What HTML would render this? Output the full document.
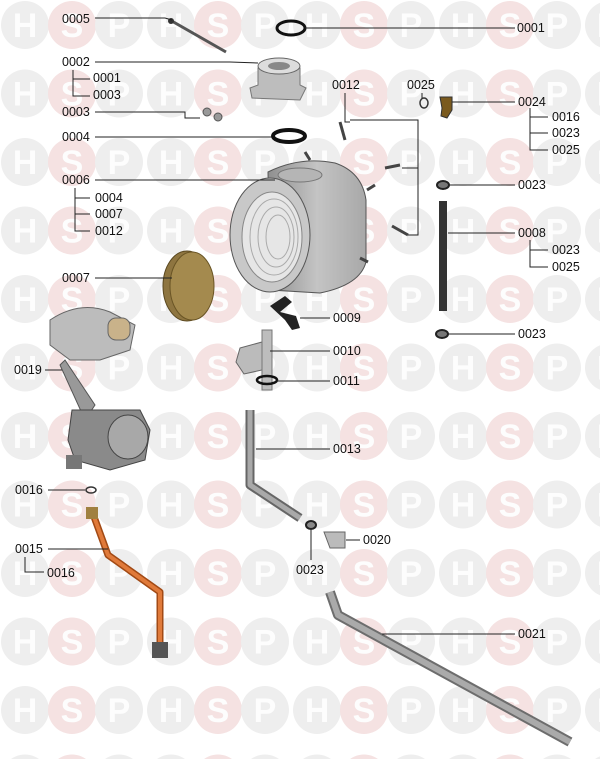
<!DOCTYPE html>
<html><head><meta charset="utf-8"><style>
html,body{margin:0;padding:0;background:#fff}
svg{display:block}
.l{font-family:"Liberation Sans",Arial,sans-serif;font-size:12.5px;fill:#111}
.wm{font-family:"Liberation Sans",Arial,sans-serif;font-weight:bold;font-size:34px;fill:#fdfdfd;text-anchor:middle}
</style></head><body>
<svg width="600" height="759" viewBox="0 0 600 759" xmlns="http://www.w3.org/2000/svg">
<defs>
<pattern id="wp" patternUnits="userSpaceOnUse" x="0" y="0" width="146" height="68.5">
<circle cx="25" cy="25" r="24" fill="#eeeeee"/><text class="wm" x="25" y="37">H</text>
<circle cx="72" cy="25" r="24" fill="#f5e2e2"/><text class="wm" x="72" y="37">S</text>
<circle cx="119" cy="25" r="24" fill="#eeeeee"/><text class="wm" x="119" y="37">P</text>
</pattern>
<linearGradient id="cyl" x1="0" y1="0" x2="1" y2="0">
<stop offset="0" stop-color="#8f8f8f"/><stop offset="0.5" stop-color="#c4c4c4"/><stop offset="1" stop-color="#a8a8a8"/>
</linearGradient>
</defs>
<rect width="600" height="759" fill="#fff"/>
<rect width="600" height="759" fill="url(#wp)"/>

<path d="M170 20 L226 52" stroke="#555" stroke-width="3"/>
<circle cx="171" cy="21" r="3" fill="#333"/>
<ellipse cx="291" cy="28" rx="14" ry="7" fill="none" stroke="#111" stroke-width="3"/>
<path d="M258 68 L258 85 L250 88 L252 98 L300 100 L306 88 L300 85 L300 68 Z" fill="#bdbdbd" stroke="#777"/>
<ellipse cx="279" cy="66" rx="21" ry="8" fill="#ddd" stroke="#666"/>
<ellipse cx="279" cy="66" rx="11" ry="4" fill="#888"/>
<circle cx="207" cy="112" r="4" fill="#999" stroke="#555"/><circle cx="218" cy="117" r="4" fill="#999" stroke="#555"/>
<ellipse cx="289" cy="136" rx="16" ry="6" fill="none" stroke="#111" stroke-width="4"/>
<path d="M268 172 Q300 156 335 163 Q362 172 366 200 L366 262 Q360 285 320 293 L270 290 Z" fill="url(#cyl)" stroke="#555"/>
<ellipse cx="270" cy="235" rx="40" ry="57" fill="#c8c8c8" stroke="#555"/>
<ellipse cx="272" cy="237" rx="30" ry="45" fill="#e6e6e6" stroke="#888"/>
<g stroke="#aaa" fill="none"><ellipse cx="274" cy="237" rx="24" ry="38"/><ellipse cx="276" cy="237" rx="18" ry="30"/><ellipse cx="278" cy="237" rx="12" ry="22"/></g>
<ellipse cx="300" cy="175" rx="22" ry="7" fill="#b5b5b5" stroke="#777"/>
<g stroke="#444" stroke-width="3" fill="none">
<path d="M340 122 L345 140"/><path d="M385 168 L400 165"/><path d="M392 226 L408 235"/><path d="M367 190 L375 185"/><path d="M305 152 L310 160"/><path d="M360 258 L368 262"/>
</g>
<ellipse cx="424" cy="103" rx="4" ry="5" fill="none" stroke="#333" stroke-width="1.5"/>
<path d="M440 97 L452 97 L452 110 L447 118 L441 116 L442 108 Z" fill="#7a5a1e" stroke="#333"/>
<ellipse cx="443" cy="185" rx="6" ry="4" fill="#777" stroke="#222" stroke-width="2"/>
<ellipse cx="442" cy="334" rx="6" ry="4" fill="#777" stroke="#222" stroke-width="2"/>
<rect x="439" y="201" width="8" height="110" fill="#333"/>
<ellipse cx="187" cy="286" rx="24" ry="35" fill="#8e7540" stroke="#5a4820"/>
<ellipse cx="192" cy="286" rx="22" ry="34" fill="#a48a4e" stroke="#6a5525"/>
<path d="M270 306 L285 296 L292 302 L280 312 L296 316 L300 328 L292 330 L285 320 Z" fill="#222"/>
<path d="M240 348 L262 342 L268 352 L262 370 L244 374 L236 362 Z" fill="#bbb" stroke="#666"/>
<rect x="262" y="330" width="10" height="60" fill="#bdbdbd" stroke="#777"/>
<ellipse cx="267" cy="380" rx="10" ry="4" fill="none" stroke="#111" stroke-width="2.5"/>
<path d="M250 410 L250 485 L300 518" fill="none" stroke="#666" stroke-width="9" stroke-linejoin="round"/>
<path d="M250 410 L250 485 L300 518" fill="none" stroke="#a9a9a9" stroke-width="5" stroke-linejoin="round"/>
<ellipse cx="311" cy="525" rx="5" ry="4" fill="#888" stroke="#222" stroke-width="2"/>
<path d="M324 532 L345 532 L345 548 L330 548 Z" fill="#bbb" stroke="#666"/>
<path d="M330 592 L338 615 L570 742" fill="none" stroke="#6d6d6d" stroke-width="10" stroke-linejoin="round"/>
<path d="M330 592 L338 615 L570 742" fill="none" stroke="#aaa" stroke-width="6" stroke-linejoin="round"/>
<path d="M50 320 Q80 300 110 312 L135 325 L130 350 L100 360 L70 360 L50 345 Z" fill="#bcbcbc" stroke="#666"/>
<rect x="108" y="318" width="22" height="22" rx="8" fill="#c9b28a" stroke="#666"/>
<path d="M65 360 L95 405 L85 420 L60 365 Z" fill="#999" stroke="#555"/>
<path d="M72 410 L140 410 L150 430 L145 460 L110 470 L75 460 L68 440 Z" fill="#8a8a8a" stroke="#444"/>
<ellipse cx="128" cy="437" rx="20" ry="22" fill="#a8a8a8" stroke="#444"/>
<rect x="66" y="455" width="16" height="14" fill="#777"/>
<ellipse cx="91" cy="490" rx="5" ry="3" fill="none" stroke="#333" stroke-width="1.5"/>
<path d="M93 514 L108 555 L160 592 L160 645" fill="none" stroke="#a24a15" stroke-width="7" stroke-linejoin="round"/>
<path d="M93 514 L108 555 L160 592 L160 645" fill="none" stroke="#e07a3a" stroke-width="4" stroke-linejoin="round"/>
<rect x="86" y="507" width="12" height="12" fill="#a08040"/>
<rect x="152" y="642" width="16" height="16" fill="#555"/>

<g stroke="#222" stroke-width="1" fill="none">
<path d="M95 18 H165 L172 20"/>
<path d="M305 28 H515"/>
<path d="M95 62 H230 L258 63"/>
<path d="M73 70 V96 H90"/><path d="M73 79 H90"/>
<path d="M95 112 H185 V118 H200"/>
<path d="M95 137 H272"/>
<path d="M95 180 H275"/>
<path d="M75 188 V231 H90"/><path d="M75 198 H90"/><path d="M75 214 H90"/>
<path d="M95 278 H172"/>
<path d="M45 370 H62"/>
<path d="M48 490 H85"/>
<path d="M48 549 H108"/>
<path d="M25 557 V572 H44"/>
<path d="M345 93 V122 H350"/>
<path d="M350 120 H418 V235 H408"/><path d="M402 168 H418"/>
<path d="M422 93 V98"/>
<path d="M452 102 H515"/>
<path d="M530 108 V150 H548"/><path d="M530 117 H548"/><path d="M530 133 H548"/>
<path d="M450 185 H515"/>
<path d="M448 233 H515"/>
<path d="M530 240 V267 H548"/><path d="M530 250 H548"/>
<path d="M448 334 H515"/>
<path d="M300 318 H330"/>
<path d="M270 351 H330"/>
<path d="M277 381 H330"/>
<path d="M256 449 H330"/>
<path d="M346 540 H360"/>
<path d="M311 530 V560"/>
<path d="M382 634 H515"/>
</g>

<g class="l">
<text x="62" y="23">0005</text>
<text x="517" y="32">0001</text>
<text x="62" y="66">0002</text>
<text x="93" y="82">0001</text>
<text x="93" y="99">0003</text>
<text x="62" y="116">0003</text>
<text x="62" y="141">0004</text>
<text x="62" y="184">0006</text>
<text x="95" y="202">0004</text>
<text x="95" y="218">0007</text>
<text x="95" y="235">0012</text>
<text x="62" y="282">0007</text>
<text x="14" y="374">0019</text>
<text x="15" y="494">0016</text>
<text x="15" y="553">0015</text>
<text x="47" y="577">0016</text>
<text x="332" y="89">0012</text>
<text x="407" y="89">0025</text>
<text x="518" y="106">0024</text>
<text x="552" y="121">0016</text>
<text x="552" y="137">0023</text>
<text x="552" y="154">0025</text>
<text x="518" y="189">0023</text>
<text x="518" y="237">0008</text>
<text x="552" y="254">0023</text>
<text x="552" y="271">0025</text>
<text x="518" y="338">0023</text>
<text x="333" y="322">0009</text>
<text x="333" y="355">0010</text>
<text x="333" y="385">0011</text>
<text x="333" y="453">0013</text>
<text x="363" y="544">0020</text>
<text x="296" y="574">0023</text>
<text x="518" y="638">0021</text>
</g>
</svg>
</body></html>
